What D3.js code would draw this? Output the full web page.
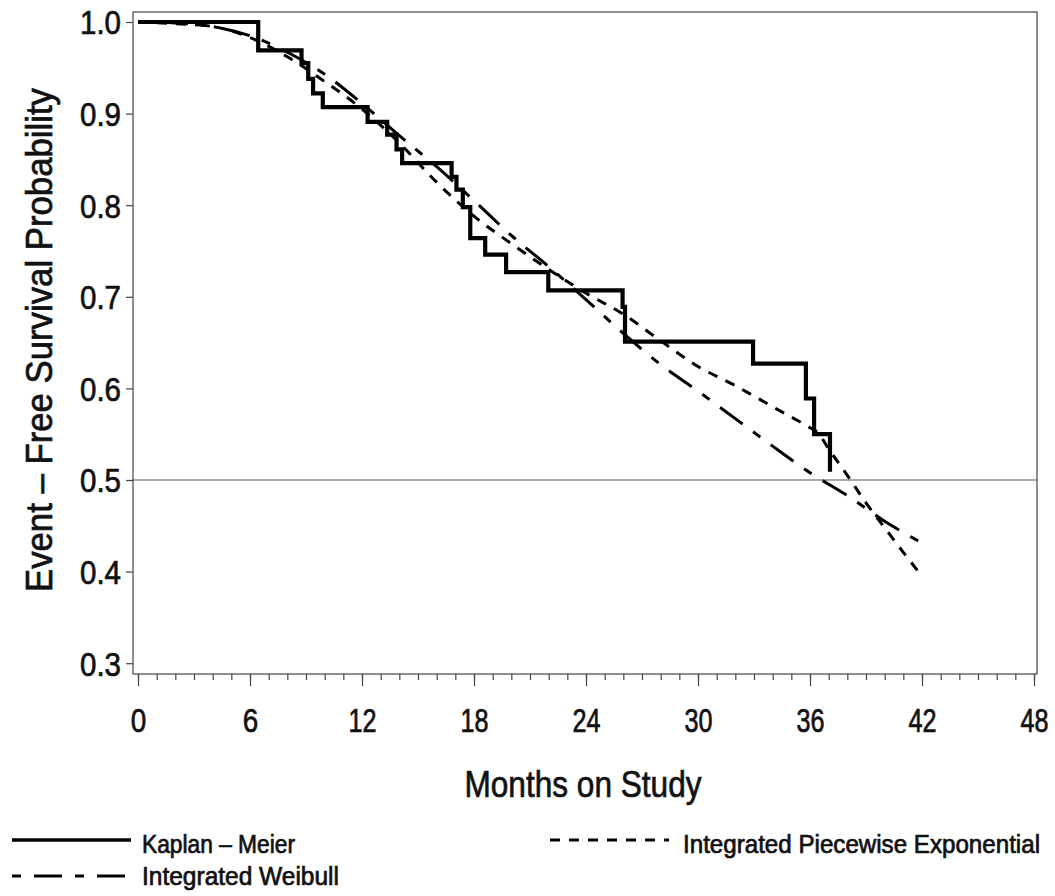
<!DOCTYPE html>
<html>
<head>
<meta charset="utf-8">
<script src="https://cdn.jsdelivr.net/npm/d3@7"></script>
<style>
  body { margin: 0; background: #fff; }
  svg { display: block; font-family: "Liberation Sans", Arial, sans-serif; }
  svg text { stroke: #111; stroke-width: 0.7px; paint-order: stroke; }
</style>
</head>
<body>
<svg id="chart" width="1055" height="896"></svg>
<script>
// Kaplan-Meier step curve (time in months, survival after the drop)
const kmTimes = [0, 6.44, 8.76, 9.12, 9.38, 9.9, 12.3, 13.35, 13.85, 14.15, 16.8, 17.06, 17.4, 17.8, 18.6, 19.72, 21.98, 25.96, 26.09, 32.95, 35.78, 36.22, 37.07];
const kmSurv = [1.0, 0.969, 0.955, 0.938, 0.922, 0.907, 0.891, 0.877, 0.861, 0.846, 0.831, 0.817, 0.798, 0.764, 0.746, 0.727, 0.707, 0.689, 0.651, 0.627, 0.589, 0.550, 0.509];

// Integrated Weibull fit
const weibullTimes = [0, 2, 4, 6, 8, 10, 12, 14, 16, 18, 20, 22, 24, 26, 28, 30, 32, 34, 36, 38, 40, 42.2];
const weibullSurv = [1.0, 0.999, 0.995, 0.985, 0.967, 0.943, 0.911, 0.876, 0.842, 0.805, 0.767, 0.733, 0.697, 0.660, 0.626, 0.597, 0.567, 0.537, 0.508, 0.483, 0.455, 0.429];

// Integrated piecewise exponential fit
const pexpTimes = [0, 2, 4, 6, 8, 10, 12, 14, 16, 18, 20, 22, 24, 26, 28, 30, 32, 34, 36, 36.4, 37, 38, 39, 40, 41, 42];
const pexpSurv = [1.0, 0.998, 0.995, 0.983, 0.962, 0.935, 0.905, 0.868, 0.825, 0.788, 0.758, 0.730, 0.704, 0.681, 0.652, 0.624, 0.603, 0.580, 0.557, 0.552, 0.534, 0.505, 0.475, 0.448, 0.421, 0.395];

// Axis ticks and labels
const xTicks = [0, 6, 12, 18, 24, 30, 36, 42, 48];
const xMinorTicks = d3.range(0, 49, 1);
const yTicks = [0.3, 0.4, 0.5, 0.6, 0.7, 0.8, 0.9, 1.0];
const xTitle = "Months on Study";
const yTitle = "Event \u2013 Free Survival Probability";
const legendLabels = ["Kaplan \u2013 Meier", "Integrated Weibull", "Integrated Piecewise Exponential"];

const FONT = "'Liberation Sans', Arial, sans-serif";
const INK = "#111";
const FRAME = { left: 133, right: 1037, top: 12, bottom: 674 };

const svg = d3.select("#chart");
svg.append("rect").attr("width", 1055).attr("height", 896).attr("fill", "#fff");

// Scales
const x = d3.scaleLinear().domain([0, 48]).range([138, 1034]);
const y = d3.scaleLinear().domain([0.3, 1.0]).range([663.2, 22]);

// Reference line at median
svg.append("line")
  .attr("x1", FRAME.left).attr("x2", FRAME.right)
  .attr("y1", y(0.5)).attr("y2", y(0.5))
  .attr("stroke", "#555").attr("stroke-width", 1.2);

// Minor x ticks
const minorAxis = svg.append("g")
  .attr("transform", `translate(0, ${FRAME.bottom})`)
  .call(d3.axisBottom(x).tickValues(xMinorTicks).tickSize(6).tickFormat(""));
minorAxis.select(".domain").remove();

// Major x ticks + labels
const xAxis = svg.append("g")
  .attr("transform", `translate(0, ${FRAME.bottom})`)
  .call(d3.axisBottom(x).tickValues(xTicks).tickSize(12).tickFormat(d3.format("d")));
xAxis.select(".domain").remove();
xAxis.selectAll("text")
  .attr("y", 58).attr("dy", null)
  .attr("font-size", 33).attr("font-family", FONT).attr("fill", INK)
  .attr("textLength", (d) => (String(d).length === 1 ? 15.5 : 28))
  .attr("lengthAdjust", "spacingAndGlyphs");

// Y axis
const yAxis = svg.append("g")
  .attr("transform", `translate(${FRAME.left}, 0)`)
  .call(d3.axisLeft(y).tickValues(yTicks).tickSize(7).tickPadding(5).tickFormat(d3.format(".1f")));
yAxis.select(".domain").remove();
yAxis.selectAll("text")
  .attr("dy", "0.36em")
  .attr("font-size", 33).attr("font-family", FONT).attr("fill", INK)
  .attr("textLength", 41)
  .attr("lengthAdjust", "spacingAndGlyphs");

svg.selectAll(".tick line").attr("stroke", "#444").attr("stroke-width", 1.2);

// Frame
svg.append("rect")
  .attr("x", FRAME.left).attr("y", FRAME.top)
  .attr("width", FRAME.right - FRAME.left).attr("height", FRAME.bottom - FRAME.top)
  .attr("fill", "none").attr("stroke", "#444").attr("stroke-width", 1.2);

// Curves
const toPoints = (ts, ss) => ts.map((t, i) => [t, ss[i]]);
const smoothLine = d3.line().x((d) => x(d[0])).y((d) => y(d[1])).curve(d3.curveMonotoneX);
const stepLine = d3.line().x((d) => x(d[0])).y((d) => y(d[1])).curve(d3.curveStepAfter);

const WEIBULL_DASH = "9,13,28,13";
const PEXP_DASH = "10,9";

svg.append("path")
  .attr("d", smoothLine(toPoints(pexpTimes, pexpSurv)))
  .attr("fill", "none").attr("stroke", "#000").attr("stroke-width", 3)
  .attr("stroke-dasharray", PEXP_DASH);

svg.append("path")
  .attr("d", smoothLine(toPoints(weibullTimes, weibullSurv)))
  .attr("fill", "none").attr("stroke", "#000").attr("stroke-width", 3)
  .attr("stroke-dasharray", WEIBULL_DASH);

svg.append("path")
  .attr("d", stepLine(toPoints(kmTimes, kmSurv)))
  .attr("fill", "none").attr("stroke", "#000").attr("stroke-width", 4.2)
  .attr("stroke-linejoin", "miter");

// Axis titles
svg.append("text")
  .text(xTitle)
  .attr("x", 583).attr("y", 797)
  .attr("text-anchor", "middle")
  .attr("font-size", 37).attr("font-family", FONT).attr("fill", INK)
  .attr("textLength", 237).attr("lengthAdjust", "spacingAndGlyphs");

svg.append("text")
  .text(yTitle)
  .attr("transform", "translate(52, 340) rotate(-90)")
  .attr("text-anchor", "middle")
  .attr("font-size", 37).attr("font-family", FONT).attr("fill", INK)
  .attr("textLength", 504).attr("lengthAdjust", "spacingAndGlyphs");

// Legend
const legendItems = [
  { label: legendLabels[0], dash: null, lx: 12, ly: 840, tx: 142, ty: 853, w: 153 },
  { label: legendLabels[1], dash: WEIBULL_DASH, lx: 12, ly: 876, tx: 142, ty: 885, w: 197 },
  { label: legendLabels[2], dash: PEXP_DASH, lx: 550, ly: 840, tx: 683, ty: 853, w: 357 }
];
const legend = svg.append("g");
legendItems.forEach((item) => {
  legend.append("line")
    .attr("x1", item.lx).attr("x2", item.lx + 119)
    .attr("y1", item.ly).attr("y2", item.ly)
    .attr("stroke", "#000").attr("stroke-width", item.dash ? 3 : 3.5)
    .attr("stroke-dasharray", item.dash);
  legend.append("text")
    .text(item.label)
    .attr("x", item.tx).attr("y", item.ty)
    .attr("font-size", 25).attr("font-family", FONT).attr("fill", INK)
    .attr("textLength", item.w).attr("lengthAdjust", "spacingAndGlyphs");
});
</script>
</body>
</html>
